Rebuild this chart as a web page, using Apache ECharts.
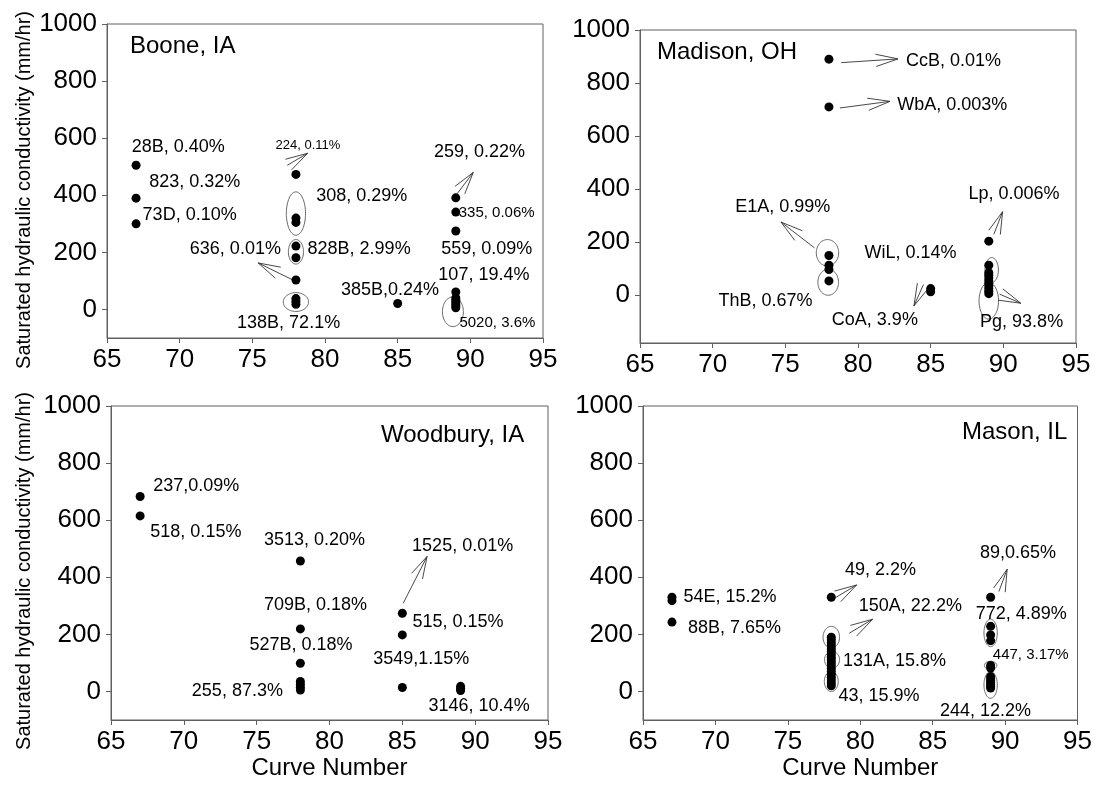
<!DOCTYPE html>
<html>
<head>
<meta charset="utf-8">
<script src="https://cdn.jsdelivr.net/npm/echarts@6/dist/echarts.min.js"></script>
<style>
  html, body { margin: 0; padding: 0; background: #fff; }
  #chart { width: 1095px; height: 793px; }
</style>
</head>
<body>
<div id="chart"></div>
<script>
const FONT = '"Liberation Sans", Arial, Helvetica, sans-serif';

// Shared axes
const curveTicks = [65, 70, 75, 80, 85, 90, 95];
const ksatTicks = [0, 200, 400, 600, 800, 1000];

// ---- Boone, IA : [curve number, Ksat mm/hr]
const boonePoints = [
  [67, 505], [67, 390], [67, 300],
  [78, 473], [78, 320], [78, 305], [78, 222], [78, 181], [78, 103], [78, 38], [78, 28], [78, 18],
  [85, 21],
  [89, 391], [89, 341], [89, 275], [89, 61], [89, 40], [89, 33], [89, 26], [89, 19], [89, 12], [89, 6]
];
const booneSoils = ['28B, 0.40%', '823, 0.32%', '73D, 0.10%', '224, 0.11%', '308, 0.29%', '828B, 2.99%',
  '636, 0.01%', '138B, 72.1%', '385B,0.24%', '259, 0.22%', '335, 0.06%', '559, 0.09%', '107, 19.4%', '5020, 3.6%'];
const booneSoilAt = [[66.7, 570], [67.9, 447], [67.45, 332], [76.6, 574], [79.4, 396], [78.8, 212],
  [70.7, 210], [73.95, -47], [81.1, 68], [87.5, 553], [89.2, 340], [88.0, 212], [87.8, 120], [89.25, -48]];
const booneArrows = [[77.4, 505, 78.8, 547], [77.8, 103, 75.4, 163], [89.1, 406, 90.2, 480]];
const booneRings = [[78, 336, 0.66, 76], [78, 202, 0.52, 43], [78, 26, 0.87, 33], [88.8, -8, 0.72, 52]];

// ---- Madison, OH
const madisonPoints = [
  [78, 890], [78, 710], [78, 150], [78, 113], [78, 97], [78, 54],
  [85, 25], [85, 13],
  [89, 204], [89, 113], [89, 85], [89, 75], [89, 65], [89, 55], [89, 45], [89, 35], [89, 25], [89, 15], [89, 6]
];
const madisonSoils = ['CcB, 0.01%', 'WbA, 0.003%', 'E1A, 0.99%', 'WiL, 0.14%', 'ThB, 0.67%', 'CoA, 3.9%', 'Lp, 0.006%', 'Pg, 93.8%'];
const madisonSoilAt = [[83.3, 883], [82.7, 718], [71.55, 334], [80.45, 161], [70.4, -23], [78.2, -95], [87.6, 381], [88.4, -100]];
const madisonArrows = [[78.85, 877, 82.75, 891], [78.75, 706, 82.2, 731], [77.0, 179, 74.7, 276],
  [84.5, 40, 83.85, -40], [89.35, 230, 89.95, 315], [89.75, 4, 91.2, -30]];
const madisonRings = [[77.9, 160, 0.77, 50], [77.95, 49, 0.71, 49], [89.2, 95, 0.46, 47], [89.0, -21, 0.67, 69]];

// ---- Woodbury, IA
const woodburyPoints = [
  [67, 683], [67, 615],
  [78, 457], [78, 219], [78, 99], [78, 35], [78, 25], [78, 15], [78, 5],
  [85, 274], [85, 198], [85, 14],
  [89, 18], [89, 10], [89, 3]
];
const woodburySoils = ['237,0.09%', '518, 0.15%', '3513, 0.20%', '1525, 0.01%', '709B, 0.18%', '515, 0.15%',
  '527B, 0.18%', '3549,1.15%', '255, 87.3%', '3146, 10.4%'];
const woodburySoilAt = [[67.9, 721], [67.7, 560], [75.5, 529], [85.67, 510], [75.5, 303], [85.7, 243],
  [74.5, 163], [83.0, 113], [70.55, 0], [86.8, -52]];
const woodburyArrows = [[85.06, 309, 86.7, 473]];
const woodburyRings = [];

// ---- Mason, IL
const masonPoints = [
  [67, 330], [67, 318], [67, 243],
  [78, 330], [78, 190], [78, 180], [78, 170], [78, 160], [78, 150], [78, 140], [78, 130], [78, 120], [78, 110],
  [78, 100], [78, 90], [78, 80], [78, 70], [78, 60], [78, 50], [78, 40], [78, 30], [78, 20],
  [89, 330], [89, 228], [89, 198], [89, 178], [89, 91], [89, 82], [89, 52], [89, 45], [89, 38], [89, 31], [89, 24], [89, 17], [89, 12]
];
const masonSoils = ['54E, 15.2%', '88B, 7.65%', '49, 2.2%', '150A, 22.2%', '89,0.65%', '772, 4.89%',
  '131A, 15.8%', '447, 3.17%', '43, 15.9%', '244, 12.2%'];
const masonSoilAt = [[67.8, 330], [68.1, 222], [78.95, 427], [79.9, 299], [88.27, 486], [87.97, 270],
  [78.8, 105], [89.15, 127], [78.5, -15], [85.5, -68]];
const masonArrows = [[78.33, 330, 79.75, 373], [79.24, 204, 80.85, 253], [89.57, 350, 90.14, 428]];
const masonRings = [[78, 190, 0.57, 38], [78.05, 111, 0.52, 29], [78, 35, 0.48, 35],
  [89.0, 205, 0.46, 48], [89.0, 91, 0.43, 15], [89.0, 23, 0.46, 47]];

// Labels drawn in a smaller type
const smallType = { '224, 0.11%': 13, '335, 0.06%': 15, '5020, 3.6%': 15, '447, 3.17%': 15 };

const Y_TITLE = 'Saturated hydraulic conductivity (mm/hr)';

const panels = [
  { name: 'Boone, IA', pts: boonePoints, soils: booneSoils, at: booneSoilAt, arrows: booneArrows, rings: booneRings,
    grid: { left: 107, top: 24, width: 436, height: 314 }, yMin: -100, xTitle: false,
    title: { left: 130, top: 34 } },
  { name: 'Madison, OH', pts: madisonPoints, soils: madisonSoils, at: madisonSoilAt, arrows: madisonArrows, rings: madisonRings,
    grid: { left: 640, top: 30, width: 436, height: 313 }, yMin: -180, xTitle: false,
    title: { left: 657, top: 40 } },
  { name: 'Woodbury, IA', pts: woodburyPoints, soils: woodburySoils, at: woodburySoilAt, arrows: woodburyArrows, rings: woodburyRings,
    grid: { left: 111, top: 406, width: 437, height: 314 }, yMin: -100, xTitle: true,
    title: { left: 381, top: 423 } },
  { name: 'Mason, IL', pts: masonPoints, soils: masonSoils, at: masonSoilAt, arrows: masonArrows, rings: masonRings,
    grid: { left: 643, top: 406, width: 436, height: 314 }, yMin: -100, xTitle: true,
    title: { left: 962, top: 420 } }
];

const AXIS_COLOR = '#606060';
const option = {
  animation: false,
  backgroundColor: '#fff',
  title: [], grid: [], xAxis: [], yAxis: [], series: [],
  // y-axis titles of the left column
  graphic: [
    { type: 'text', x: 24, y: 190, rotation: Math.PI / 2, silent: true,
      style: { text: Y_TITLE, fontFamily: FONT, fontSize: 20, fill: '#000', align: 'center', verticalAlign: 'middle' } },
    { type: 'text', x: 24, y: 571, rotation: Math.PI / 2, silent: true,
      style: { text: Y_TITLE, fontFamily: FONT, fontSize: 20, fill: '#000', align: 'center', verticalAlign: 'middle' } }
  ]
};

panels.forEach((p, i) => {
  option.title.push({
    text: p.name, left: p.title.left, top: p.title.top, padding: 0,
    textStyle: { fontFamily: FONT, fontSize: 24, fontWeight: 'normal', color: '#000' }
  });
  option.grid.push(Object.assign({ show: true, borderColor: AXIS_COLOR, borderWidth: 1, containLabel: false }, p.grid));
  option.xAxis.push({
    gridIndex: i, type: 'value', min: 65, max: 95,
    name: p.xTitle ? 'Curve Number' : '', nameLocation: 'middle', nameGap: 36,
    nameTextStyle: { fontFamily: FONT, fontSize: 24, color: '#000' },
    axisLine: { show: true, onZero: false, lineStyle: { color: AXIS_COLOR, width: 1 } },
    axisTick: { show: true, length: 5, customValues: curveTicks, lineStyle: { color: AXIS_COLOR } },
    axisLabel: { customValues: curveTicks, fontFamily: FONT, fontSize: 26, color: '#000', margin: 9,
      formatter: v => String(v) },
    splitLine: { show: false }
  });
  option.yAxis.push({
    gridIndex: i, type: 'value', min: p.yMin, max: 1000,
    axisLine: { show: true, onZero: false, lineStyle: { color: AXIS_COLOR, width: 1 } },
    axisTick: { show: true, length: 5, customValues: ksatTicks, lineStyle: { color: AXIS_COLOR } },
    axisLabel: { customValues: ksatTicks, fontFamily: FONT, fontSize: 26, color: '#000', margin: 10,
      formatter: v => String(v) },
    splitLine: { show: false }
  });

  // outline ellipses around groups of soils
  option.series.push({
    type: 'custom', xAxisIndex: i, yAxisIndex: i, clip: false, silent: true, z: 2,
    data: p.rings,
    renderItem(params, api) {
      const c = api.coord([api.value(0), api.value(1)]);
      const s = api.size([api.value(2), api.value(3)]);
      const pts = [];
      for (let k = 0; k < 72; k++) {
        const t = k / 72 * Math.PI * 2;
        pts.push([c[0] + s[0] * Math.cos(t), c[1] + s[1] * Math.sin(t)]);
      }
      return { type: 'polygon', shape: { points: pts }, style: { stroke: '#555', lineWidth: 0.9, fill: null } };
    }
  });

  // open-headed arrows pointing from points to their labels
  option.series.push({
    type: 'custom', xAxisIndex: i, yAxisIndex: i, clip: false, silent: true, z: 2,
    data: p.arrows,
    renderItem(params, api) {
      const a = api.coord([api.value(0), api.value(1)]);
      const b = api.coord([api.value(2), api.value(3)]);
      const ang = Math.atan2(b[1] - a[1], b[0] - a[0]);
      const len = Math.hypot(b[0] - a[0], b[1] - a[1]);
      const L = Math.min(23, len);
      const th = 0.27;
      const h1 = [b[0] - L * Math.cos(ang - th), b[1] - L * Math.sin(ang - th)];
      const h2 = [b[0] - L * Math.cos(ang + th), b[1] - L * Math.sin(ang + th)];
      return {
        type: 'group', children: [
          { type: 'line', shape: { x1: a[0], y1: a[1], x2: b[0], y2: b[1] }, style: { stroke: '#333', lineWidth: 0.9 } },
          { type: 'polyline', shape: { points: [h1, b, h2] }, style: { stroke: '#333', lineWidth: 0.9, fill: null } }
        ]
      };
    }
  });

  // soil / area-share labels
  option.series.push({
    type: 'custom', xAxisIndex: i, yAxisIndex: i, clip: false, silent: true, z: 3,
    data: p.at,
    renderItem(params, api) {
      const c = api.coord([api.value(0), api.value(1)]);
      const t = p.soils[params.dataIndex];
      return {
        type: 'text', x: c[0], y: c[1],
        style: { text: t, fontFamily: FONT, fontSize: smallType[t] || 18, fill: '#000', align: 'left', verticalAlign: 'middle' }
      };
    }
  });

  // soil map units
  option.series.push({
    type: 'scatter', xAxisIndex: i, yAxisIndex: i, data: p.pts, symbol: 'circle', symbolSize: 9,
    itemStyle: { color: '#000', opacity: 1 }, z: 4, silent: true
  });
});

const chart = echarts.init(document.getElementById('chart'), null, { renderer: 'canvas' });
chart.setOption(option);
</script>
</body>
</html>
